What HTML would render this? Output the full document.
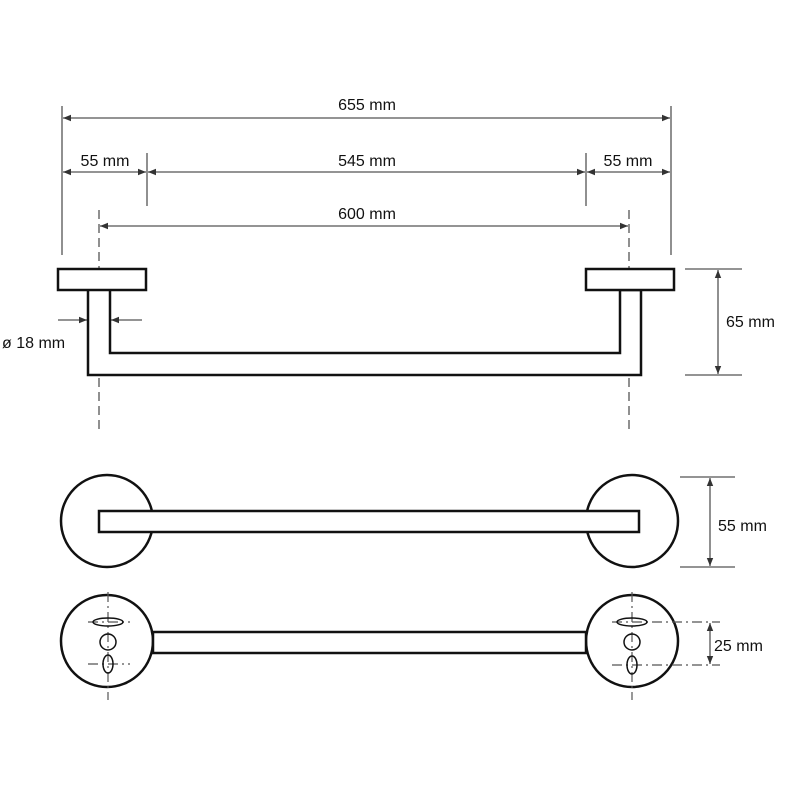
<!DOCTYPE html>
<html><head><style>body{margin:0;background:#fff}svg{display:block}text{font-family:"Liberation Sans",sans-serif;font-size:16px;fill:#111}</style></head>
<body>
<svg width="800" height="800" viewBox="0 0 800 800" xmlns="http://www.w3.org/2000/svg">
<defs>
<marker id="a" viewBox="0 0 10 10" refX="10" refY="5" markerWidth="8" markerHeight="8" orient="auto-start-reverse" markerUnits="userSpaceOnUse"><path d="M0,1 L10,5 L0,9 z" fill="#333"/></marker>
</defs>
<g stroke="#555" stroke-width="1.3" fill="none">
<line x1="62" y1="106" x2="62" y2="255"/>
<line x1="671" y1="106" x2="671" y2="255"/>
<line x1="147" y1="153" x2="147" y2="206"/>
<line x1="586" y1="153" x2="586" y2="206"/>
<line x1="63" y1="118" x2="670" y2="118" marker-start="url(#a)" marker-end="url(#a)"/>
<line x1="63" y1="172" x2="146" y2="172" marker-start="url(#a)" marker-end="url(#a)"/>
<line x1="148" y1="172" x2="585" y2="172" marker-start="url(#a)" marker-end="url(#a)"/>
<line x1="587" y1="172" x2="670" y2="172" marker-start="url(#a)" marker-end="url(#a)"/>
<line x1="100" y1="226" x2="628" y2="226" marker-start="url(#a)" marker-end="url(#a)"/>
<line x1="99" y1="210" x2="99" y2="430" stroke-dasharray="9,5"/>
<line x1="629" y1="210" x2="629" y2="430" stroke-dasharray="9,5"/>
<line x1="685" y1="269" x2="742" y2="269"/>
<line x1="685" y1="375" x2="742" y2="375"/>
<line x1="718" y1="270" x2="718" y2="374" marker-start="url(#a)" marker-end="url(#a)"/>
<line x1="58" y1="320" x2="87" y2="320" marker-end="url(#a)"/>
<line x1="142" y1="320" x2="111" y2="320" marker-end="url(#a)"/>
<line x1="680" y1="477" x2="735" y2="477"/>
<line x1="680" y1="567" x2="735" y2="567"/>
<line x1="710" y1="478" x2="710" y2="566" marker-start="url(#a)" marker-end="url(#a)"/>
<line x1="710" y1="623" x2="710" y2="664" marker-start="url(#a)" marker-end="url(#a)"/>
</g>
<g stroke="#111" stroke-width="2.5" fill="#fff">
<path d="M88 290 V375 H641 V290 H620 V353 H110 V290" />
<rect x="58" y="269" width="88" height="21"/>
<rect x="586" y="269" width="88" height="21"/>
<circle cx="107" cy="521" r="46"/>
<circle cx="632" cy="521" r="46"/>
<rect x="99" y="511" width="540" height="21"/>
<circle cx="107" cy="641" r="46"/>
<circle cx="632" cy="641" r="46"/>
<rect x="153" y="632" width="433" height="21"/>
</g>
<g stroke="#555" stroke-width="1.2" fill="none" stroke-dasharray="10,4,2,4">
<line x1="108" y1="592" x2="108" y2="700"/>
<line x1="632" y1="592" x2="632" y2="700"/>
<line x1="88" y1="622" x2="130" y2="622"/>
<line x1="88" y1="664" x2="130" y2="664"/>
<line x1="612" y1="622" x2="720" y2="622"/>
<line x1="612" y1="665" x2="720" y2="665"/>
</g>
<g stroke="#111" stroke-width="1.5" fill="none">
<ellipse cx="108" cy="622" rx="15" ry="4"/>
<circle cx="108" cy="642" r="8"/>
<ellipse cx="108" cy="664" rx="5" ry="9"/>
<ellipse cx="632" cy="622" rx="15" ry="4"/>
<circle cx="632" cy="642" r="8"/>
<ellipse cx="632" cy="665" rx="5" ry="9"/>
</g>
<text x="367" y="110" text-anchor="middle">655 mm</text>
<text x="105" y="166" text-anchor="middle">55 mm</text>
<text x="367" y="166" text-anchor="middle">545 mm</text>
<text x="628" y="166" text-anchor="middle">55 mm</text>
<text x="367" y="219" text-anchor="middle">600 mm</text>
<text x="726" y="327">65 mm</text>
<text x="2" y="348">ø 18 mm</text>
<text x="718" y="531">55 mm</text>
<text x="714" y="651">25 mm</text>
</svg>
</body></html>
